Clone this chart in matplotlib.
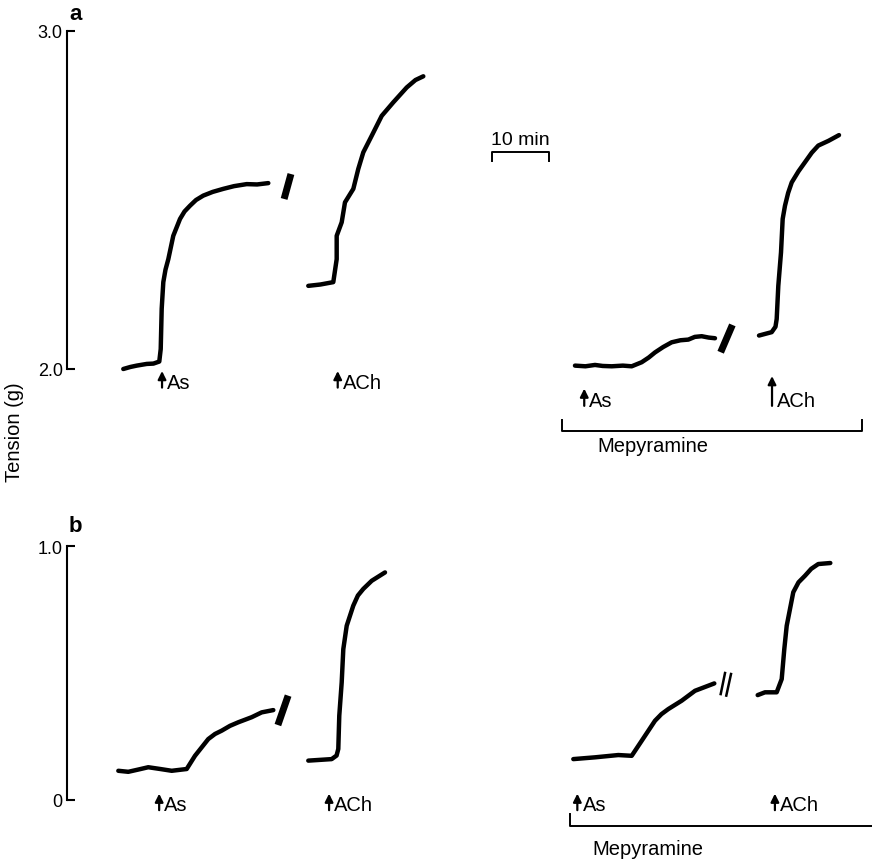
import matplotlib
matplotlib.use("Agg")
import matplotlib.pyplot as plt

plt.rcParams['font.family'] = ['Liberation Sans', 'DejaVu Sans']

# ---- panel a traces: time (min) and tension (g) ----
a_as_t = [9.77, 11.0, 12.10, 13.84, 15.0, 16.02, 16.27, 16.44, 16.72, 17.1, 17.59,
          18.45, 19.62, 20.4, 21.35, 22.4, 23.66, 25.3, 27.14, 29.0, 31.20, 33.0, 34.95]
a_as_g = [2.000, 2.006, 2.010, 2.015, 2.016, 2.022, 2.059, 2.178, 2.257, 2.294, 2.325,
          2.394, 2.444, 2.466, 2.483, 2.500, 2.513, 2.524, 2.533, 2.541, 2.547, 2.546, 2.550]
a_ach_t = [41.89, 44.0, 46.23, 46.82, 46.82, 47.69, 48.26, 49.71, 50.57, 51.44, 52.90,
           54.64, 56.65, 58.98, 60.5, 61.86]
a_ach_g = [2.246, 2.250, 2.257, 2.325, 2.394, 2.434, 2.493, 2.533, 2.592, 2.641, 2.690,
           2.749, 2.789, 2.833, 2.855, 2.866]
a_mep_as_t = [88.19, 90.0, 91.67, 93.0, 94.57, 96.5, 98.04, 99.77, 101.0, 102.08, 103.5,
              104.98, 106.5, 107.87, 109.0, 110.19, 111.4, 112.50]
a_mep_as_g = [2.010, 2.008, 2.012, 2.009, 2.008, 2.010, 2.008, 2.020, 2.034, 2.049, 2.065,
              2.079, 2.085, 2.087, 2.095, 2.097, 2.093, 2.091]
a_mep_ach_t = [120.14, 122.34, 123.0, 123.21, 123.49, 123.96, 124.25, 124.65, 125.2,
               125.82, 127.0, 128.13, 129.3, 130.43, 132.2, 134.03]
a_mep_ach_g = [2.099, 2.109, 2.125, 2.148, 2.246, 2.345, 2.444, 2.483, 2.521,
               2.552, 2.585, 2.612, 2.640, 2.661, 2.675, 2.692]
# chart-break marks (t pairs, g pairs)
a_breaks = [([38.72, 37.85], [2.567, 2.513]), ([115.28, 113.72], [2.121, 2.059])]

# ---- panel b traces ----
b_as_t = [8.91, 10.64, 12.4, 14.11, 16.2, 18.18, 20.78, 22.22, 24.53, 25.7, 26.86,
          28.3, 29.74, 32.07, 33.80, 35.82]
b_as_g = [0.115, 0.111, 0.120, 0.129, 0.122, 0.115, 0.122, 0.174, 0.240, 0.260, 0.273,
          0.292, 0.306, 0.326, 0.345, 0.354]
b_ach_t = [41.89, 45.95, 46.8, 47.10, 47.27, 47.69, 47.97, 48.56, 49.70, 50.5, 51.44,
           52.90, 55.21]
b_ach_g = [0.155, 0.161, 0.175, 0.201, 0.332, 0.463, 0.594, 0.686, 0.765, 0.805, 0.831,
           0.863, 0.896]
b_mep_as_t = [87.90, 91.67, 95.71, 98.04, 99.77, 102.08, 103.2, 104.39, 106.72, 109.03,
              112.38]
b_mep_as_g = [0.161, 0.168, 0.177, 0.174, 0.233, 0.312, 0.338, 0.358, 0.391, 0.430,
              0.459]
b_mep_ach_t = [119.91, 121.18, 123.21, 124.08, 124.53, 124.95, 126.09, 127.0, 128.13,
               129.2, 130.43, 132.52]
b_mep_ach_g = [0.413, 0.424, 0.424, 0.476, 0.594, 0.686, 0.818, 0.857, 0.883,
               0.910, 0.929, 0.933]
b_thick_break = ([38.19, 36.81], [0.398, 0.308])
b_thin_breaks = [([114.24, 113.49], [0.500, 0.417]), ([115.28, 114.46], [0.496, 0.411])]

# drug additions
drug_labels = ["As", "ACh", "As", "ACh"]
a_add_t = [16.5, 47.0, 89.8, 122.4]
b_add_t = [16.0, 45.5, 88.6, 122.9]

W, H = 872, 862
fig = plt.figure(figsize=(W / 100, H / 100), dpi=100)


def px_axes(left, right, top, bottom):
    return fig.add_axes([left / W, 1 - bottom / H, (right - left) / W, (bottom - top) / H])


ax_a = px_axes(67, 872, 32, 370)
ax_b = px_axes(67, 872, 547, 801)
xmax = 805 / 5.76

for ax in (ax_a, ax_b):
    ax.set_xlim(0, xmax)
    for s in ("top", "right", "bottom"):
        ax.spines[s].set_visible(False)
    ax.spines["left"].set_linewidth(1.5)
    ax.set_xticks([])
    ax.tick_params(axis="y", direction="in", length=6, width=1.5, pad=3, labelsize=13)
    ax.patch.set_visible(False)

ax_a.set_ylim(2.0, 3.0)
ax_a.set_yticks([2.0, 3.0], ["2.0", "3.0"])
ax_b.set_ylim(0, 1.0)
ax_b.set_yticks([0, 1.0], ["0", "1.0"])


def trace(ax, t, g, lw=3.2):
    ax.plot(t, g, color="k", lw=lw, solid_capstyle="round", solid_joinstyle="round",
            clip_on=False)


def addition(ax, t0, label, base, tip):
    ax.annotate("", xy=(t0, tip), xytext=(t0, base),
                arrowprops=dict(arrowstyle="-|>", color="k", lw=1.6, mutation_scale=12,
                                shrinkA=0, shrinkB=0), annotation_clip=False)
    ax.text(t0 + 0.9, base, label, fontsize=14.5, ha="left", va="baseline")


def bracket(ax, t0, t1, y, ytick, right_tick=True):
    xs = [t0, t0, t1, t1] if right_tick else [t0, t0, t1]
    ys = [ytick, y, y, ytick] if right_tick else [ytick, y, y]
    ax.plot(xs, ys, color="k", lw=1.4, clip_on=False)


# panel a
trace(ax_a, a_as_t, a_as_g)
trace(ax_a, a_ach_t, a_ach_g)
trace(ax_a, a_mep_as_t, a_mep_as_g)
trace(ax_a, a_mep_ach_t, a_mep_ach_g)
for bt, bg in a_breaks:
    ax_a.plot(bt, bg, color="k", lw=5, clip_on=False)

for i, (t0, lab) in enumerate(zip(a_add_t, drug_labels)):
    if i == 3:
        addition(ax_a, t0, lab, 1.891, 1.979)
    elif i == 2:
        addition(ax_a, t0, lab, 1.891, 1.942)
    else:
        addition(ax_a, t0, lab, 1.945, 1.994)

bracket(ax_a, 85.94, 138.0, 1.817, 1.849)
ax_a.text(101.7, 1.775, "Mepyramine", fontsize=14.5, ha="center", va="center")

# time scale bar
bracket(ax_a, 73.73, 83.73, 2.642, 2.615)
ax_a.text(78.73, 2.655, "10 min", fontsize=14, ha="center", va="bottom")

# panel b
trace(ax_b, b_as_t, b_as_g)
trace(ax_b, b_ach_t, b_ach_g)
trace(ax_b, b_mep_as_t, b_mep_as_g)
trace(ax_b, b_mep_ach_t, b_mep_ach_g)
ax_b.plot(*b_thick_break, color="k", lw=5, clip_on=False)
for bt, bg in b_thin_breaks:
    ax_b.plot(bt, bg, color="k", lw=1.8, clip_on=False)

for t0, lab in zip(b_add_t, drug_labels):
    addition(ax_b, t0, lab, -0.040, 0.025)

bracket(ax_b, 87.33, xmax, -0.102, -0.055, right_tick=False)
ax_b.text(100.87, -0.189, "Mepyramine", fontsize=14.5, ha="center", va="center")

# panel letters and shared axis label
fig.text(69 / W, 1 - 15 / H, "a", fontsize=16, fontweight="bold", ha="left", va="center")
fig.text(69 / W, 1 - 527 / H, "b", fontsize=16, fontweight="bold", ha="left", va="center")
fig.text(14 / W, 1 - 432 / H, "Tension (g)", fontsize=14.5, rotation=90,
         ha="center", va="center")

fig.savefig("out.png", dpi=100)
